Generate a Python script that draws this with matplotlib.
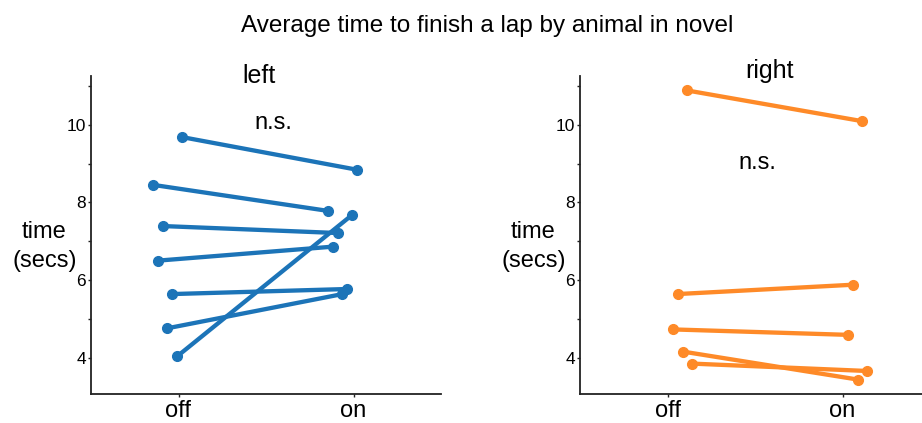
import matplotlib
matplotlib.use("Agg")
import matplotlib.pyplot as plt
import numpy as np

plt.rcParams['font.family'] = ['Liberation Sans', 'DejaVu Sans']

conditions = ["off", "on"]
panels = ["left", "right"]

# per-animal values (secs) and per-animal horizontal jitter
left_off = [9.68, 8.45, 7.39, 6.50, 5.64, 4.76, 4.04]
left_on = [8.84, 7.78, 7.21, 6.86, 5.77, 5.64, 7.68]
left_jitter = [0.02, -0.145, -0.087, -0.118, -0.036, -0.063, -0.007]

right_off = [10.88, 5.64, 4.73, 4.16, 3.85]
right_on = [10.09, 5.88, 4.59, 3.44, 3.66]
right_jitter = [0.112, 0.058, 0.032, 0.087, 0.142]

ns_pos = {"left": (0.54, 9.9), "right": (0.514, 8.86)}
colors = {"left": "#1c74b8", "right": "#fe8a28"}

fig = plt.figure(figsize=(9.22, 4.23), dpi=100)
ax_l = fig.add_axes([91/922, 29/423, 350/922, 318/423])
ax_r = fig.add_axes([580/922, 29/423, 350/922, 318/423])

alldata = left_off + left_on + right_off + right_on
lo, hi = min(alldata), max(alldata)
pad = 0.05 * (hi - lo)

datasets = {
    "left": (ax_l, left_off, left_on, left_jitter, 0.481, 0.978),
    "right": (ax_r, right_off, right_on, right_jitter, 0.54, 0.994),
}

for name in panels:
    ax, off, on, jit, tx, ty = datasets[name]
    for a, b, j in zip(off, on, jit):
        ax.plot([0 + j, 1 + j], [a, b], color=colors[name], lw=3.1,
                marker='o', markersize=7, solid_capstyle='round')
    ax.set_xlim(-0.5, 1.5)
    ax.set_ylim(lo - pad, hi + pad)
    ax.set_xticks([0, 1])
    ax.set_xticklabels(conditions, fontsize=17)
    yt = [4, 5, 6, 7, 8, 9, 10, 11]
    ax.set_yticks(yt)
    ax.set_yticklabels([str(v) if v % 2 == 0 else "" for v in yt], fontsize=12.5)
    ax.tick_params(axis='y', length=2.5, width=1, pad=1, color='#222222')
    ax.tick_params(axis='x', length=2.5, width=1, pad=2, color='#222222')
    for s in ['top', 'right']:
        ax.spines[s].set_visible(False)
    for s in ['left', 'bottom']:
        ax.spines[s].set_linewidth(1.3)
        ax.spines[s].set_color('#222222')
    ax.set_ylabel("time\n(secs)", rotation=0, fontsize=17, ha='center', va='center',
                  linespacing=1.4)
    ax.yaxis.set_label_coords(-0.133, 0.465)
    ax.text(tx, ty, name, transform=ax.transAxes, ha='center', va='baseline', fontsize=18)
    nx, ny = ns_pos[name]
    ax.text(nx, ny, "n.s.", ha='center', va='baseline', fontsize=17)

fig.text(0.528, 0.924, "Average time to finish a lap by animal in novel",
         ha='center', va='baseline', fontsize=17.5)

fig.savefig("out.png", dpi=100)
